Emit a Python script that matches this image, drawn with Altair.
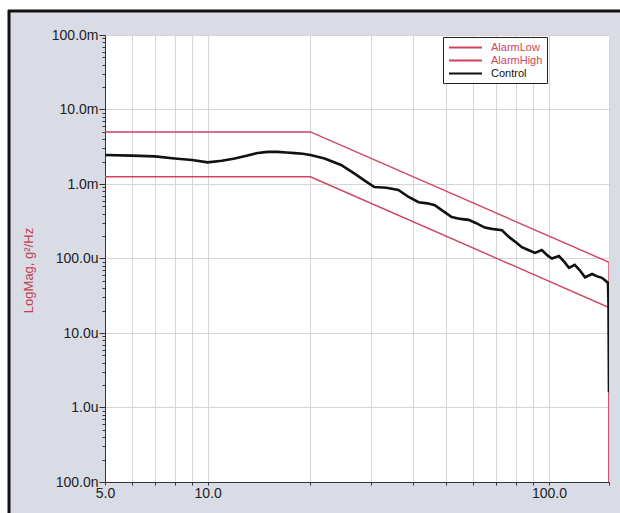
import altair as alt
import pandas as pd

# ---- data ----
series_names = ["AlarmLow", "AlarmHigh", "Control"]
series_colors = ["#d2425c", "#d2425c", "#111111"]

low_freq = [5.0, 20.0, 150.0, 150.0]
low_val = [1.25e-3, 1.25e-3, 2.2e-5, 1e-7]

high_freq = [5.0, 20.0, 150.0, 150.0]
high_val = [5.0e-3, 5.0e-3, 8.9e-5, 1e-7]

ctrl_freq = [5.0, 6, 7, 8, 9, 10, 11, 12, 13, 14, 15, 16, 17, 18, 19, 20,
             22, 24.6, 26.8, 29.2, 30.8, 33.4, 36.2, 38.8, 41.5, 44,
             46.3, 48.4, 51.9, 55, 58.2, 61, 64.9, 68, 72.8, 76.3,
             80, 83.3, 87, 91, 95.3, 99, 102, 107, 111, 114.5,
             119, 123, 127.6, 133.8, 138, 143, 146, 149, 149.5, 150]
ctrl_val = [2.45e-3, 2.4e-3, 2.35e-3, 2.2e-3, 2.1e-3, 1.95e-3, 2.05e-3, 2.2e-3, 2.4e-3, 2.6e-3,
            2.7e-3, 2.7e-3, 2.65e-3, 2.6e-3, 2.55e-3, 2.45e-3,
            2.2e-3, 1.8e-3, 1.4e-3, 1.07e-3, 9.1e-4, 8.9e-4, 8.3e-4, 6.7e-4, 5.7e-4, 5.5e-4,
            5.2e-4, 4.5e-4, 3.6e-4, 3.4e-4, 3.3e-4, 3.0e-4, 2.6e-4, 2.5e-4, 2.4e-4, 1.95e-4,
            1.65e-4, 1.42e-4, 1.3e-4, 1.19e-4, 1.3e-4, 1.1e-4, 1.0e-4, 1.08e-4, 9e-5, 7.5e-5,
            8.2e-5, 7.0e-5, 5.6e-5, 6.2e-5, 5.8e-5, 5.5e-5, 5.1e-5, 4.7e-5, 2.5e-5, 1.6e-6]

x_tick_values = [5, 6, 7, 8, 9, 10, 20, 30, 40, 50, 60, 70, 80, 90, 100, 150]
x_label_values = [5, 10, 100]
x_label_texts = ["5.0", "10.0", "100.0"]

y_label_values = [1e-1, 1e-2, 1e-3, 1e-4, 1e-5, 1e-6, 1e-7]
y_label_texts = ["100.0m", "10.0m", "1.0m", "100.0u", "10.0u", "1.0u", "100.0n"]
y_minor_mult = [2, 3, 4, 5, 6, 7, 8, 9]

# ---- build tables ----
def make_rows(name, fs, vs):
    return [{"series": name, "freq": f, "mag": v, "idx": i}
            for i, (f, v) in enumerate(zip(fs, vs))]

alarm_df = pd.DataFrame(make_rows("AlarmLow", low_freq, low_val)
                        + make_rows("AlarmHigh", high_freq, high_val))
ctrl_df = pd.DataFrame(make_rows("Control", ctrl_freq, ctrl_val))

y_tick_values = list(y_label_values)
for d in y_label_values[1:]:
    for m in y_minor_mult:
        y_tick_values.append(d * m)


def expr_chain(values, texts):
    e = "''"
    for v, t in zip(reversed(values), reversed(texts)):
        e = f"abs(datum.value/{v!r} - 1) < 1e-6 ? '{t}' : " + e
    return e


x_label_expr = expr_chain(x_label_values, x_label_texts)
y_label_expr = expr_chain(y_label_values, y_label_texts)
decade_test = " || ".join(f"abs(datum.value/{v!r} - 1) < 1e-6" for v in y_label_values)

W, H = 504, 447
FONT = "Liberation Sans"

x_enc = alt.X("freq:Q",
              scale=alt.Scale(type="log", domain=[5, 150], nice=False),
              axis=alt.Axis(values=x_tick_values, labelExpr=x_label_expr, title=None,
                            grid=True, gridColor="#d6d6d6", gridWidth=1,
                            domainColor="#333333", tickColor="#333333", tickSize=3,
                            labelFont=FONT, labelFontSize=14, labelColor="#222222",
                            labelPadding=1, labelOverlap=False, labelFlush=False))
y_enc = alt.Y("mag:Q",
              scale=alt.Scale(type="log", domain=[1e-7, 1e-1], nice=False),
              axis=alt.Axis(values=y_tick_values, labelExpr=y_label_expr,
                            title="LogMag, g²/Hz", titleColor="#c0404e", titleFont=FONT,
                            titleFontSize=13, titleFontWeight="normal", titleAngle=270,
                            titleX=-77, titleY=235, titleAlign="center", titleBaseline="middle",
                            grid=True, gridColor="#d6d6d6", gridWidth=1,
                            gridOpacity={"condition": {"test": decade_test, "value": 1}, "value": 0},
                            tickSize={"condition": {"test": decade_test, "value": 6}, "value": 3},
                            domainColor="#333333", tickColor="#333333",
                            labelFont=FONT, labelFontSize=14, labelColor="#222222",
                            labelPadding=1, labelOverlap=False, labelFlush=False))
color_enc = alt.Color("series:N",
                      scale=alt.Scale(domain=series_names, range=series_colors),
                      legend=alt.Legend(title=None, orient="none", legendX=338, legendY=2,
                                        symbolType="M-3,0H3", symbolSize=121,
                                        symbolStrokeWidth=2, symbolOffset=12,
                                        labelFont=FONT, labelFontSize=11,
                                        labelColor=alt.ExprRef(expr="datum.label == 'Control' ? '#111111' : '#d2425c'"),
                                        rowPadding=1, padding=4, labelOffset=19,
                                        strokeColor="#222222", fillColor="white"))

alarms = alt.Chart(alarm_df).mark_line(strokeWidth=1.4, clip=True).encode(
    x=x_enc, y=y_enc, color=color_enc, order=alt.Order("idx:Q"), detail="series:N")
control = alt.Chart(ctrl_df).mark_line(strokeWidth=2.6, clip=True).encode(
    x=x_enc, y=y_enc, color=color_enc, order=alt.Order("idx:Q"))

dummy = pd.DataFrame({"a": [0]})
white_top = alt.Chart(dummy).mark_rect(color="white", clip=False).encode(
    x=alt.value(-105), x2=alt.value(W + 11), y=alt.value(-35), y2=alt.value(-25))
white_left = alt.Chart(dummy).mark_rect(color="white", clip=False).encode(
    x=alt.value(-105), x2=alt.value(-96), y=alt.value(-35), y2=alt.value(H + 31))
frame_top = alt.Chart(dummy).mark_rule(color="#111111", strokeWidth=3, clip=False).encode(
    x=alt.value(-97), x2=alt.value(W + 11), y=alt.value(-24))
frame_left = alt.Chart(dummy).mark_rule(color="#111111", strokeWidth=3, clip=False).encode(
    x=alt.value(-96), y=alt.value(-25), y2=alt.value(H + 31))

chart = alt.layer(white_top, white_left, frame_top, frame_left, alarms, control).properties(
    width=W, height=H,
    autosize=alt.AutoSizeParams(type="none"),
    padding={"left": 105, "top": 35, "right": 11, "bottom": 31},
    background="#d9dbe5",
).configure_view(stroke="transparent", fill="white")

chart.save("out.html", embed_options={"renderer": "svg", "actions": False})
